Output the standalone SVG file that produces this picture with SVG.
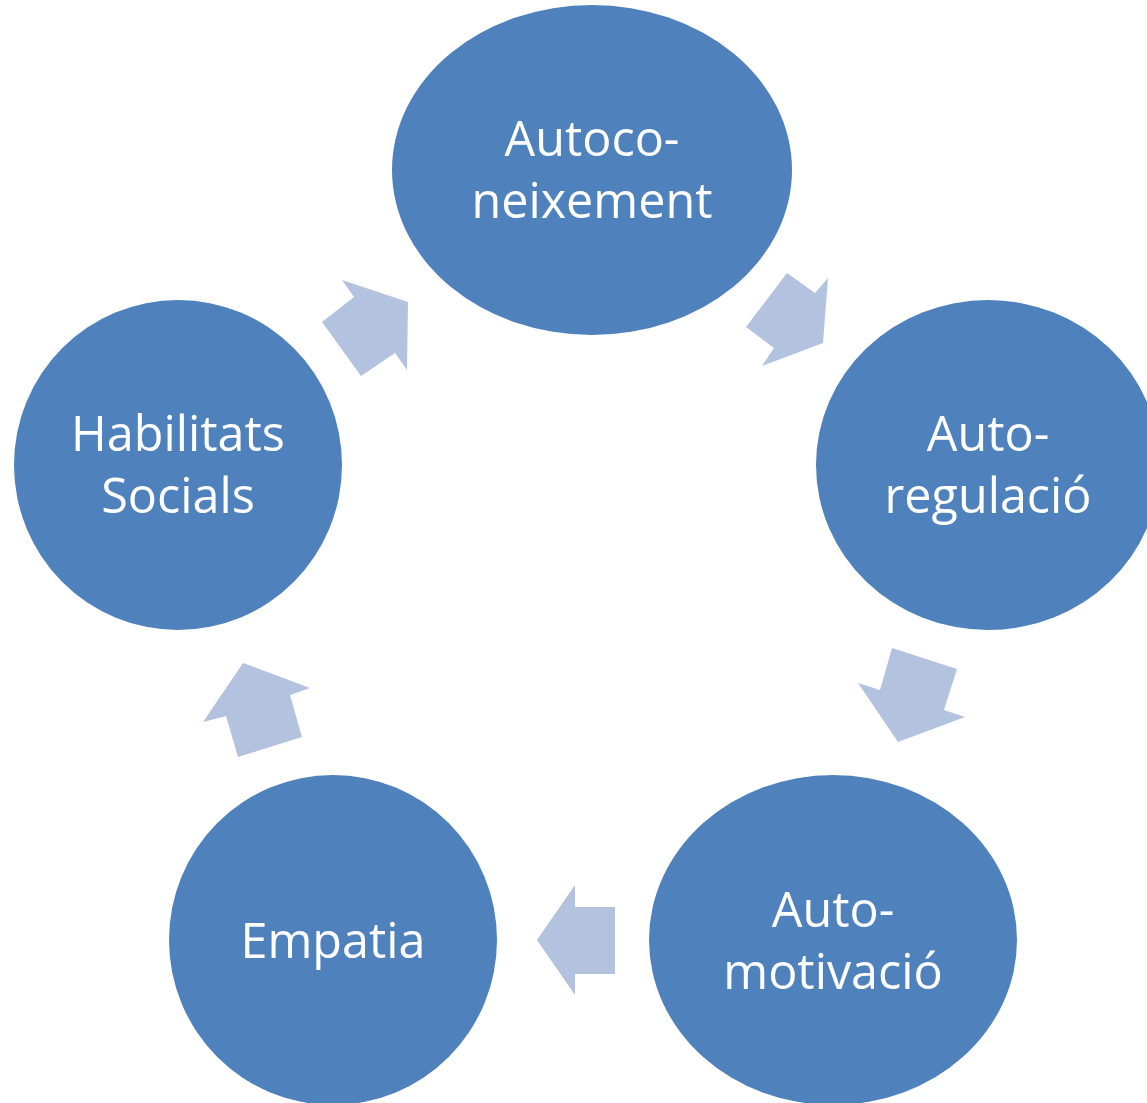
<svg xmlns="http://www.w3.org/2000/svg" width="1147" height="1103" viewBox="0 0 1147 1103">
<style>
.node{fill:#4f81bd;}
.lbl{fill:#ffffff;font-family:"Open Sans","Noto Sans",sans-serif;font-size:48.5px;text-anchor:middle;}
.arr{fill:#b3c2de;}
</style>
<rect width="1147" height="1103" fill="#ffffff"/>
<g id="connectors">
<polygon class="arr" points="342,280 408,302 407,370 395,353 361,376 322,322 354,297"/>
<polygon class="arr" points="787,273 815,293 828,278 823,343 762,366 774,348 746,327"/>
<polygon class="arr" points="892,648 957,669 944,710 965,717 898,742 858,683 880,690"/>
<polygon class="arr" points="575,885 575,907 615,907 615,974 575,974 575,995 537,940"/>
<polygon class="arr" points="243,663 310,688 290,695 302,737 238,757 226,716 203,722"/>
</g>
<g id="node-autoconeixement">
<ellipse class="node" cx="592" cy="170" rx="200" ry="165"/>
<text class="lbl" x="592" y="156">Autoco-</text>
<text class="lbl" x="592" y="218">neixement</text>
</g>
<g id="node-autoregulacio">
<ellipse class="node" cx="988" cy="465" rx="172" ry="165"/>
<text class="lbl" x="988" y="451">Auto-</text>
<text class="lbl" x="988" y="513">regulació</text>
</g>
<g id="node-automotivacio">
<ellipse class="node" cx="833" cy="940" rx="184" ry="165"/>
<text class="lbl" x="833" y="927">Auto-</text>
<text class="lbl" x="833" y="989">motivació</text>
</g>
<g id="node-empatia">
<ellipse class="node" cx="333" cy="940" rx="164" ry="165"/>
<text class="lbl" x="333" y="958">Empatia</text>
</g>
<g id="node-habilitats">
<ellipse class="node" cx="178" cy="465" rx="164" ry="165"/>
<text class="lbl" x="178" y="451">Habilitats</text>
<text class="lbl" x="178" y="513">Socials</text>
</g>
</svg>
